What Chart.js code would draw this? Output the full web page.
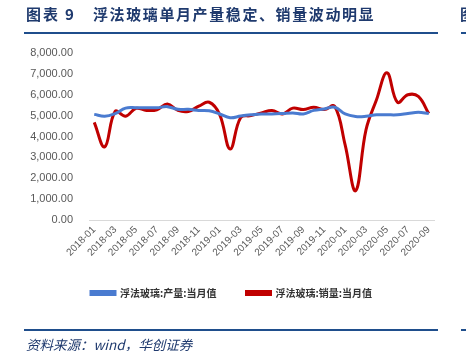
<!DOCTYPE html>
<html>
<head>
<meta charset="utf-8">
<script src="https://cdn.jsdelivr.net/npm/chart.js@4"></script>
<style>
  html, body { margin: 0; padding: 0; background: #fff; }
  #wrap { position: relative; width: 466px; height: 351px; overflow: hidden; }
  #c { position: absolute; left: 0; top: 0; }
  .title { position: absolute; top: 3px; font: bold 15px "Noto Sans CJK SC", sans-serif; color: #1F3A6E; white-space: nowrap; }
  .rule { position: absolute; height: 2px; background: #1F4E8C; }
  .src { position: absolute; left: 26px; top: 334px; font: italic 13.5px "Noto Sans CJK SC", serif; color: #1F3A6E; white-space: nowrap; }
</style>
</head>
<body>
<div id="wrap">
  <canvas id="c" width="466" height="351"></canvas>
  <div class="title" style="left:26px; letter-spacing:2px">图表</div>
  <div class="title" style="left:65px">9</div>
  <div class="title" style="left:93px; letter-spacing:1.6px">浮法玻璃单月产量稳定、销量波动明显</div>
  <div class="title" style="left:460px">图</div>
  <div class="rule" style="left:24px; top:32px; width:414px"></div>
  <div class="rule" style="left:461px; top:32px; width:10px"></div>
  <div class="rule" style="left:24px; top:329px; width:414px"></div>
  <div class="rule" style="left:461px; top:329px; width:10px"></div>
  <div class="src">资料来源：wind，华创证券</div>
</div>
<script>
// months 2018-01 .. 2020-09
var months = ['2018-01','2018-02','2018-03','2018-04','2018-05','2018-06','2018-07','2018-08','2018-09','2018-10','2018-11','2018-12',
              '2019-01','2019-02','2019-03','2019-04','2019-05','2019-06','2019-07','2019-08','2019-09','2019-10','2019-11','2019-12',
              '2020-01','2020-02','2020-03','2020-04','2020-05','2020-06','2020-07','2020-08','2020-09'];

// 浮法玻璃:产量:当月值
var output = [5060, 4970, 5100, 5360, 5380, 5380, 5380, 5430, 5300, 5300, 5250, 5230,
              5080, 4900, 4980, 5040, 5080, 5080, 5100, 5130, 5080, 5250, 5320, 5400,
              5080, 4960, 4970, 5040, 5040, 5040, 5100, 5160, 5100];

// 浮法玻璃:销量:当月值
var sales = [4680, 3500, 5200, 4970, 5350, 5250, 5280, 5560, 5250, 5200, 5450, 5640,
             5050, 3400, 4900, 5000, 5130, 5250, 5080, 5360, 5290, 5400, 5290, 5450,
             3600, 1400, 4330, 5760, 7050, 5640, 6000, 5920, 5100];

var tickFont = { family: 'Liberation Sans, Arial, sans-serif', size: 11 };

new Chart(document.getElementById('c'), {
  type: 'line',
  data: {
    labels: months,
    datasets: [{
      label: '浮法玻璃:产量:当月值',
      data: output,
      borderColor: '#4A7BD0',
      backgroundColor: '#4A7BD0',
      borderWidth: 3,
      pointRadius: 0,
      tension: 0.4,
      fill: false
    }, {
      label: '浮法玻璃:销量:当月值',
      data: sales,
      borderColor: '#C00000',
      backgroundColor: '#C00000',
      borderWidth: 3,
      pointRadius: 0,
      tension: 0.4,
      fill: false
    }]
  },
  options: {
    responsive: false,
    animation: false,
    layout: { padding: { left: 29, right: 32, top: 53, bottom: 43 } },
    plugins: {
      tooltip: { enabled: false },
      legend: {
        position: 'bottom',
        labels: {
          boxWidth: 24,
          boxHeight: 3,
          padding: 30,
          color: '#333',
          font: { family: 'Noto Sans CJK SC', size: 10, weight: 'bold' }
        }
      }
    },
    scales: {
      x: {
        offset: true,
        grid: { display: false, drawTicks: false },
        border: { color: '#D9D9D9', width: 1 },
        ticks: {
          autoSkip: false,
          maxRotation: 45,
          minRotation: 45,
          color: '#595959',
          font: { family: 'Liberation Sans, Arial, sans-serif', size: 10 },
          padding: 4,
          callback: function (v, i) { return i % 2 === 0 ? months[i] : ''; }
        },
        afterFit: function (s) { s.height = 38; }
      },
      y: {
        min: 0,
        max: 8000,
        grid: { display: false, drawTicks: false },
        border: { display: false },
        ticks: {
          stepSize: 1000,
          color: '#595959',
          font: tickFont,
          padding: 16,
          callback: function (v) {
            return v.toLocaleString('en-US', { minimumFractionDigits: 2, maximumFractionDigits: 2 });
          }
        },
        afterFit: function (s) { s.width = 60; }
      }
    }
  }
});
</script>
</body>
</html>
